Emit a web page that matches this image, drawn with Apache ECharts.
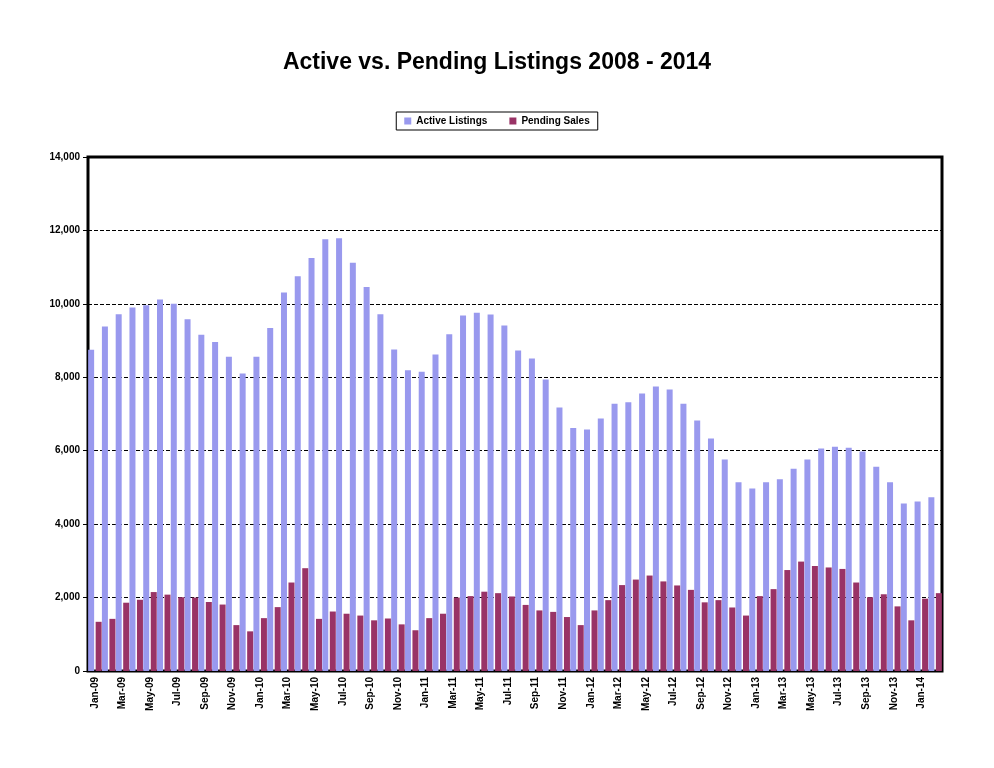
<!DOCTYPE html>
<html><head><meta charset="utf-8">
<script src="https://cdn.jsdelivr.net/npm/echarts@6/dist/echarts.min.js"></script>
<style>html,body{margin:0;background:#fff}#c{width:994px;height:768px}</style>
</head><body><div id="c"></div>
<script>
const months=['Jan','Feb','Mar','Apr','May','Jun','Jul','Aug','Sep','Oct','Nov','Dec'];
const categories=[];
for(let y=9;y<=14;y++){for(let m=0;m<12;m++){if(y===14&&m>1)break;categories.push(months[m]+'-'+String(y).padStart(2,'0'));}}
const activeListings=[8750,9380,9720,9900,9960,10120,10000,9580,9160,8960,8560,8100,
8560,9340,10310,10750,11250,11760,11790,11120,10460,9720,8760,8190,
8150,8620,9170,9680,9760,9710,9410,8730,8510,7940,7180,6620,
6580,6880,7280,7320,7560,7750,7670,7280,6820,6330,5760,5140,
4970,5140,5220,5510,5760,6060,6110,6080,5980,5560,5140,4560,
4620,4730];
const pendingSales=[1340,1420,1860,1940,2150,2080,2010,2000,1880,1810,1250,1080,
1440,1740,2410,2800,1420,1620,1560,1510,1380,1430,1270,1110,
1440,1560,2000,2040,2160,2120,2030,1800,1650,1610,1470,1250,
1650,1930,2340,2490,2600,2440,2330,2210,1870,1930,1730,1510,
2040,2230,2750,2980,2860,2820,2780,2410,2010,2090,1760,1380,
1970,2120];
const ch=echarts.init(document.getElementById('c'));
const F='"Liberation Sans", Arial, sans-serif';
ch.setOption({
 animation:false,
 title:{text:'Active vs. Pending Listings 2008 - 2014',left:'center',top:46,textStyle:{fontFamily:F,fontSize:23,fontWeight:'bold',color:'#000'}},
 legend:{top:112,left:'center',itemWidth:7,itemHeight:7,itemGap:22,borderColor:'#000',borderWidth:1,padding:[4,8],borderRadius:0,
   textStyle:{fontFamily:F,fontSize:10,fontWeight:'bold',color:'#000'},icon:'rect'},
 grid:{left:88,right:52,top:157,bottom:97,show:true,borderColor:'#000',borderWidth:3},
 xAxis:{type:'category',data:categories,
   axisLine:{lineStyle:{color:'#000',width:2}},
   axisTick:{alignWithLabel:false,interval:0,lineStyle:{color:'#000'},length:4},
   axisLabel:{interval:1,rotate:90,fontFamily:F,fontSize:10,fontWeight:'bold',color:'#000',margin:6}},
 yAxis:{type:'value',min:0,max:14000,interval:2000,
   axisLine:{show:true,lineStyle:{color:'#000',width:2}},axisTick:{show:true,lineStyle:{color:'#000'}},
   axisLabel:{fontFamily:F,fontSize:10,fontWeight:'bold',color:'#000',formatter:v=>v.toLocaleString('en-US')},
   splitLine:{lineStyle:{color:'#000',type:'dashed',width:1}}},
 series:[
  {name:'Active Listings',type:'bar',data:activeListings,itemStyle:{color:'#9999EE'},barWidth:6,barGap:'25%'},
  {name:'Pending Sales',type:'bar',data:pendingSales,itemStyle:{color:'#993366'},barWidth:6}
 ]
});
</script></body></html>
